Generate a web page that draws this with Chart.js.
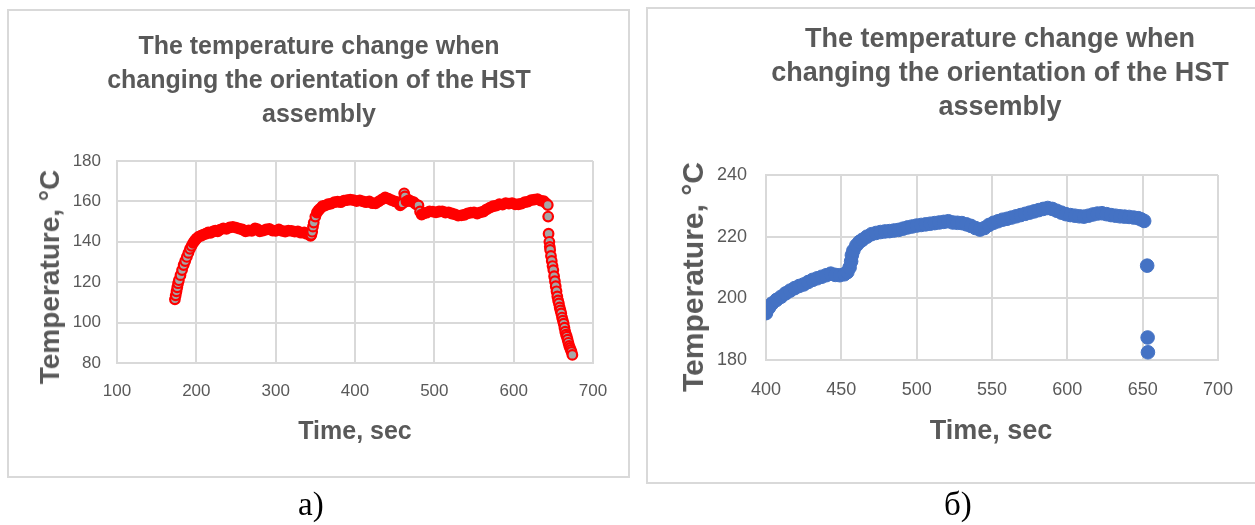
<!DOCTYPE html>
<html>
<head>
<meta charset="utf-8">
<script src="https://cdn.jsdelivr.net/npm/chart.js@4.4.1/dist/chart.umd.min.js"></script>
<style>
  body { margin: 0; width: 1255px; height: 525px; overflow: hidden; position: relative; background: #fff;
         font-family: "Liberation Sans", Arial, sans-serif; }
  .box { position: absolute; border: 2px solid #d9d9d9; box-sizing: border-box; }
  canvas { position: absolute; }
  .title { position: absolute; text-align: center; white-space: nowrap; font-weight: bold; color: #595959; }
  .axt { position: absolute; white-space: nowrap; font-weight: bold; color: #595959; transform: translate(-50%, -50%); }
  .axt.v { transform: translate(-50%, -50%) rotate(-90deg); }
  .cap { position: absolute; font-family: "Liberation Serif", "Times New Roman", serif; font-size: 33px; color: #000; }
</style>
</head>
<body>

<div class="box" style="left:7px;top:9px;width:623px;height:469px"></div>
<div class="box" style="left:646px;top:7px;width:620px;height:477px"></div>

<canvas id="chartA" width="622" height="469" style="left:8px;top:9px"></canvas>
<canvas id="chartB" width="609" height="476" style="left:646px;top:8px"></canvas>

<div class="title" style="left:19px;top:28px;width:600px;font-size:25px;line-height:34px">The temperature change when<br>changing the orientation of the HST<br>assembly</div>
<div class="title" style="left:750px;top:21px;width:500px;font-size:27px;line-height:34px">The temperature change when<br>changing the orientation of the HST<br>assembly</div>

<div class="axt v" style="left:50px;top:277px;font-size:28px">Temperature, °C</div>
<div class="axt" style="left:355px;top:430px;font-size:25px">Time, sec</div>
<div class="axt v" style="left:693px;top:277px;font-size:30px">Temperature, °C</div>
<div class="axt" style="left:991px;top:430px;font-size:27px">Time, sec</div>

<div class="cap" style="left:298px;top:486px">а)</div>
<div class="cap" style="left:944px;top:486px">б)</div>

<script>
// --- chart а): red markers, time in sec / temperature in °C
const leftTime = [
  173, 174, 175, 176, 177, 178, 180, 182, 184, 186, 188, 190, 192, 194, 196, 198, 200,
  203, 206, 209, 212, 215, 218, 221, 224, 227, 230, 234, 238, 242, 246, 250, 254, 258,
  262, 266, 270, 274, 277, 280, 284, 288, 292, 296, 300, 304, 308, 312, 316, 320, 324,
  328, 332, 336, 339, 342, 344, 345, 346, 347, 348, 350, 352, 354, 356, 359, 362, 366,
  370, 374, 378, 382, 386, 390, 394, 398, 402, 406, 410, 414, 418, 422, 426, 430, 434,
  438, 442, 446, 450, 454, 457, 460, 462, 463, 465, 468, 471, 474, 477, 480, 482, 484,
  487, 490, 494, 498, 502, 506, 510, 514, 518, 522, 526, 530, 534, 538, 542, 546, 550,
  554, 558, 562, 566, 570, 574, 578, 582, 586, 590, 594, 598, 602, 606, 610, 614, 618,
  622, 626, 630, 634, 638, 641, 643, 643.5, 644, 645, 645.5, 646, 647, 648, 649, 650,
  651, 652, 653, 654, 655, 656, 657, 658, 659, 660, 661, 662, 663, 664, 665, 666, 667,
  668, 669, 670, 671, 672, 673, 674
];
const leftTemp = [
  111.5, 113.5, 115.5, 117.5, 119.5, 121, 123.5, 126, 128.5, 130.5, 132.5, 134.5, 136.5, 138, 139.5, 140.5, 141.5,
  142.6, 143, 143.6, 144, 144.6, 144.4, 145.1, 145.5, 145.2, 146, 146.6, 146.4, 147.1, 147.4, 147, 146.5, 146.1,
  145.2, 145.6, 145.4, 146.6, 146.3, 145.2, 145.5, 146.1, 146.4, 145.6, 145.4, 146.1, 145.4, 145.1, 145.5, 145.4, 145,
  145.1, 144.5, 144.6, 144, 143.6, 143, 143.5, 145, 147.5, 149.5, 152.5, 154.5, 155.6, 156.4, 157.6, 157.9, 158.6,
  158.9, 159.6, 159.9, 159.6, 160.4, 160.6, 160.9, 160.6, 160.1, 160.5, 160, 159.6, 160, 159.1, 159, 160, 161,
  162, 161.4, 160.6, 160, 159.6, 158, 159, 164, 162.5, 160, 160.6, 160, 159.6, 158.5, 158, 155, 153.5,
  154.1, 154.4, 155.1, 154.9, 154.6, 155, 155.1, 154.5, 154.6, 154, 153.6, 153, 153.1, 153.4, 154.1, 154.4, 154.6,
  154, 154.6, 155, 156.1, 156.9, 157.6, 157.9, 158.6, 158.4, 159.1, 158.9, 159.1, 158.5, 158.6, 158.9, 159.6, 159.9,
  160.6, 160.9, 161.1, 160.4, 160.1, 159, 158.2, 152.5, 144, 140, 137.5, 136, 133, 130.5, 128, 126,
  123, 120.5, 118, 115.5, 113, 111, 109.5, 107.5, 106, 104.5, 102.5, 101, 99.5, 97.5, 95.5, 94, 93,
  91.5, 90, 88.5, 87.5, 86.5, 85.5, 84
];
const leftXTicks = [100, 200, 300, 400, 500, 600, 700];
const leftYTicks = [80, 100, 120, 140, 160, 180];

// --- chart б): blue markers
const rightTime = [
  400, 402, 404, 407, 410, 413, 416, 419, 422, 425, 428, 431, 434, 437, 440, 443, 446,
  449, 452, 454, 455.5, 456.5, 457, 458, 460, 462, 464, 467, 470, 473, 476, 479, 482,
  485, 488, 491, 494, 497, 500, 503, 506, 509, 512, 515, 518, 521, 524, 527, 530, 533,
  536, 539, 542, 545, 548, 551, 554, 557, 560, 563, 566, 569, 572, 575, 578, 581, 584,
  587, 590, 593, 596, 599, 602, 605, 608, 611, 614, 617, 620, 623, 626, 629, 632, 635,
  638, 641, 644, 647, 649, 651, 653, 653.3, 653.5
];
const rightTemp = [
  195.2, 197, 198.3, 199.5, 200.5, 201.6, 202.5, 203.3, 204, 204.5, 205.3, 206, 206.5, 207, 207.5, 208, 207.6,
  207.5, 207.8, 208.5, 210, 212, 214, 215.5, 217.2, 218.3, 219, 220, 220.8, 221.2, 221.5, 221.7, 221.8,
  222, 222.2, 222.6, 223, 223.3, 223.6, 223.8, 224, 224.2, 224.4, 224.6, 224.8, 225, 224.6, 224.5, 224.4, 224,
  223.5, 222.8, 222.3, 222.8, 223.8, 224.5, 225, 225.5, 225.8, 226.2, 226.6, 227, 227.4, 227.8, 228.2, 228.6, 229,
  229.3, 229, 228.4, 227.8, 227.3, 227, 226.8, 226.6, 226.5, 226.8, 227.2, 227.5, 227.6, 227.3, 227, 226.8, 226.6,
  226.5, 226.4, 226.2, 226, 225.6, 225.1, 210.6, 187.3, 182.5
];
const rightXTicks = [400, 450, 500, 550, 600, 650, 700];
const rightYTicks = [180, 200, 220, 240];

const gridColor = '#d9d9d9';
const tickColor = '#595959';

// grey marker face only shows where the trace climbs or falls steeply;
// elsewhere the next marker's red rim covers it
function steepFill(steepColor, flatColor) {
  return ctx => {
    const d = ctx.dataset.data;
    const i = ctx.dataIndex;
    if (i >= d.length - 1) return steepColor;
    const xs = ctx.chart.scales.x, ys = ctx.chart.scales.y;
    const dx = Math.abs(xs.getPixelForValue(d[i + 1].x) - xs.getPixelForValue(d[i].x));
    const dy = Math.abs(ys.getPixelForValue(d[i + 1].y) - ys.getPixelForValue(d[i].y));
    return dy > 1.5 * dx ? steepColor : flatColor;
  };
}

function makeChart(id, o) {
  const points = o.time.map((t, i) => ({ x: t, y: o.temp[i] }));
  return new Chart(document.getElementById(id), {
    type: 'scatter',
    data: {
      datasets: [{
        data: points,
        pointRadius: o.radius,
        pointHoverRadius: o.radius,
        pointBorderWidth: o.borderWidth,
        pointBackgroundColor: o.fill,
        pointBorderColor: o.stroke
      }]
    },
    options: {
      responsive: false,
      animation: false,
      layout: { padding: o.padding },
      plugins: { legend: { display: false }, tooltip: { enabled: false } },
      scales: {
        x: {
          type: 'linear',
          min: o.xTicks[0],
          max: o.xTicks[o.xTicks.length - 1],
          afterBuildTicks: s => { s.ticks = o.xTicks.map(v => ({ value: v })); },
          afterFit: s => { s.height = o.xHeight; },
          grid: { color: gridColor, lineWidth: 2, drawTicks: false },
          border: { color: gridColor, width: 2 },
          ticks: { padding: o.xPad, color: tickColor, font: { family: 'Liberation Sans', size: o.tickSize } }
        },
        y: {
          type: 'linear',
          min: o.yTicks[0],
          max: o.yTicks[o.yTicks.length - 1],
          afterBuildTicks: s => { s.ticks = o.yTicks.map(v => ({ value: v })); },
          afterFit: s => { s.width = o.yWidth; },
          grid: { color: gridColor, lineWidth: 2, drawTicks: false },
          border: { color: gridColor, width: 2 },
          ticks: { padding: o.yPad, color: tickColor, font: { family: 'Liberation Sans', size: o.tickSize } }
        }
      }
    }
  });
}

makeChart('chartA', {
  time: leftTime, temp: leftTemp, xTicks: leftXTicks, yTicks: leftYTicks,
  radius: 4.8, borderWidth: 2.2, fill: steepFill('#a6a6a6', '#ff0000'), stroke: '#ff0000',
  padding: { left: 10, top: 152, right: 37, bottom: 10 },
  yWidth: 99, xHeight: 105, xPad: 18, yPad: 16, tickSize: 17
});

makeChart('chartB', {
  time: rightTime, temp: rightTemp, xTicks: rightXTicks, yTicks: rightYTicks,
  radius: 6.8, borderWidth: 1, fill: '#4472c4', stroke: '#4472c4',
  padding: { left: 10, top: 167, right: 37, bottom: 10 },
  yWidth: 110, xHeight: 114, xPad: 19, yPad: 19, tickSize: 18
});
</script>
</body>
</html>
